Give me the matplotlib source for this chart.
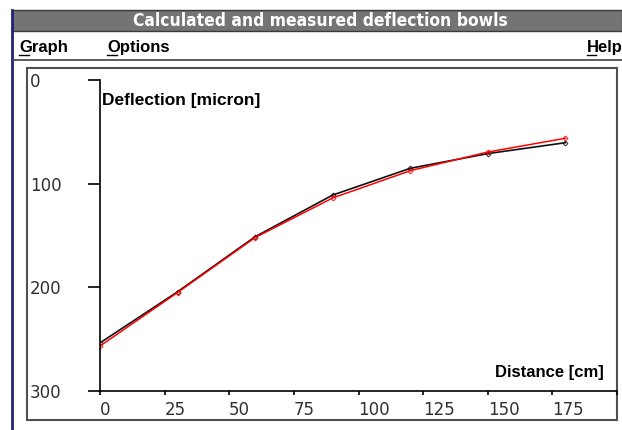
import matplotlib
matplotlib.use("Agg")
import matplotlib.pyplot as plt
from matplotlib.patches import Rectangle

# deflection bowl: geophone offsets and deflections
distance = [0, 30, 60, 90, 120, 150, 180]
calculated = [253.6, 204.3, 151.2, 111.0, 85.2, 71.0, 60.5]
measured = [256.6, 205.0, 152.0, 113.8, 87.5, 69.5, 56.2]

x_ticks = [0, 25, 50, 75, 100, 125, 150, 175, 200]
x_labels = ["0", "25", "50", "75", "100", "125", "150", "175", ""]
y_ticks = [0, 100, 200, 300]
y_labels = ["0", "100", "200", "300"]

W, H = 622, 430
fig = plt.figure(figsize=(W / 100, H / 100), dpi=100)
fig.patch.set_facecolor("white")

# window chrome, drawn in pixel coordinates
bg = fig.add_axes([0, 0, 1, 1])
bg.set_xlim(0, W)
bg.set_ylim(H, 0)
bg.axis("off")

bg.add_patch(Rectangle((12, 10), W - 12, 21, facecolor="#747474",
                       edgecolor="#3a3a3a", lw=1))
bg.text(320, 21, "Calculated and measured deflection bowls", color="white",
        ha="center", va="center", fontsize=12.5, fontweight="bold",
        family="DejaVu Sans", fontstretch="condensed")
bg.plot([12, 12], [10, H], color="#24247a", lw=2)
bg.plot([12, W], [60, 60], color="#404040", lw=1.2)

menu_font = dict(fontsize=12, fontweight="bold", family="Liberation Sans",
                 va="baseline", color="black")
bg.text(19, 52, "Graph", ha="left", **menu_font)
bg.plot([19, 29], [55, 55], color="black", lw=1)
bg.text(107, 52, "Options", ha="left", **menu_font)
bg.plot([107, 117], [55, 55], color="black", lw=1)
bg.text(587, 52, "Help", ha="left", **menu_font)
bg.plot([587, 596], [55, 55], color="black", lw=1)

bg.add_patch(Rectangle((27, 68), 590, 352, facecolor="white",
                       edgecolor="#505050", lw=1.5))

# plot area
ax = fig.add_axes([100 / W, (H - 391) / H, 517 / W, 311 / H])
ax.set_facecolor("none")
ax.set_xlim(0, 200)
ax.set_ylim(300, 0)

ax.plot(distance, calculated, color="#101010", lw=1.2, marker="D", ms=2.5,
        mfc="none", mew=0.6)
ax.plot(distance, measured, color="red", lw=1.1, marker="D", ms=2.5,
        mfc="none", mew=0.6)

for side in ["top", "right"]:
    ax.spines[side].set_visible(False)
for side in ["left", "bottom"]:
    ax.spines[side].set_color("black")
    ax.spines[side].set_linewidth(1.2)

ax.set_xticks(x_ticks)
ax.set_xticklabels(x_labels)
ax.set_yticks(y_ticks)
ax.set_yticklabels(y_labels)
ax.tick_params(axis="x", direction="out", length=3, width=1.2, pad=4,
               labelsize=12, labelcolor="#303030")
ax.tick_params(axis="y", direction="out", length=9, width=1.2, pad=41.5,
               labelsize=12, labelcolor="#303030")
for lab in ax.get_xticklabels():
    lab.set_ha("left")
for lab in ax.get_yticklabels():
    lab.set_ha("left")

bg.text(102, 100, "Deflection [micron]", ha="left", va="center",
        fontsize=12.5, fontweight="bold", family="Liberation Sans")
bg.text(604, 372, "Distance [cm]", ha="right", va="center",
        fontsize=12, fontweight="bold", family="Liberation Sans")

plt.savefig("out.png", dpi=100)
